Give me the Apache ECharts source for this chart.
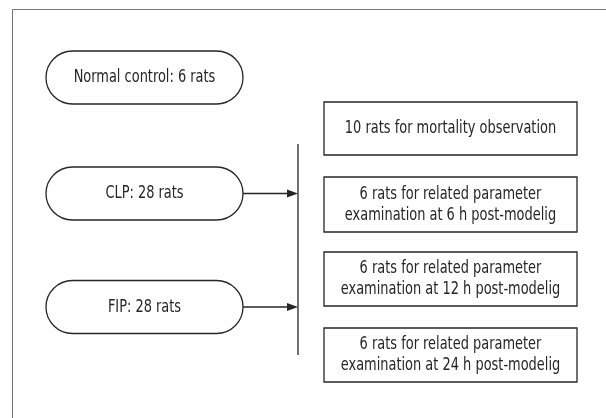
<!DOCTYPE html>
<html>
<head>
<meta charset="utf-8">
<script src="https://cdn.jsdelivr.net/npm/echarts@6/dist/echarts.min.js"></script>
<style>
  html, body { margin: 0; padding: 0; background: #fff; }
  #chart { width: 606px; height: 418px; }
</style>
</head>
<body>
<div id="chart"></div>
<script>
// groups on the left (rounded boxes)
const groupLabels = ["Normal control: 6 rats", "CLP: 28 rats", "FIP: 28 rats"];
// which groups feed into the split bar
const groupArrows = [false, true, true];
// sub-groups on the right
const subLabels = [
  "10 rats for mortality observation",
  "6 rats for related parameter\nexamination at 6 h post-modelig",
  "6 rats for related parameter\nexamination at 12 h post-modelig",
  "6 rats for related parameter\nexamination at 24 h post-modelig"
];

// layout
const pillX = 46, pillW = 197, pillH = 53;
const pillCy = [77.5, 193.5, 307];
const barX = 298, barTop = 144, barBottom = 355;
const boxX = 324, boxW = 253;
const boxTop = [102, 177, 252, 328];
const boxH = [53, 55, 54, 54];

const font = '"DejaVu Sans Condensed", sans-serif';
const fontSize = 18;
const squeeze = 0.8; // reference uses a condensed face
const lineColor = "#262626";
const textColor = "#262626";

const elements = [];

// outer frame (open on the right and bottom)
elements.push({
  type: "polyline",
  shape: { points: [[12.5, 418], [12.5, 9.5], [606, 9.5]] },
  style: { stroke: "#777", lineWidth: 1, fill: null }
});

groupLabels.forEach((label, i) => {
  elements.push({
    type: "rect",
    shape: { x: pillX, y: pillCy[i] - pillH / 2, width: pillW, height: pillH, r: pillH / 2 },
    style: { fill: "#fff", stroke: lineColor, lineWidth: 1.3 }
  });
  elements.push({
    type: "text",
    x: pillX + pillW / 2,
    y: pillCy[i],
    scaleX: squeeze,
    style: {
      text: label, fill: textColor, font: fontSize + "px " + font,
      align: "center", verticalAlign: "middle"
    }
  });
  if (groupArrows[i]) {
    elements.push({
      type: "line",
      shape: { x1: pillX + pillW, y1: pillCy[i], x2: barX - 10, y2: pillCy[i] },
      style: { stroke: lineColor, lineWidth: 1.3 }
    });
    elements.push({
      type: "polygon",
      shape: { points: [[barX - 11, pillCy[i] - 4], [barX, pillCy[i]], [barX - 11, pillCy[i] + 4]] },
      style: { fill: lineColor }
    });
  }
});

elements.push({
  type: "line",
  shape: { x1: barX, y1: barTop, x2: barX, y2: barBottom },
  style: { stroke: lineColor, lineWidth: 1.3 }
});

subLabels.forEach((label, i) => {
  elements.push({
    type: "rect",
    shape: { x: boxX, y: boxTop[i], width: boxW, height: boxH[i] },
    style: { fill: "#fff", stroke: lineColor, lineWidth: 1.3 }
  });
  elements.push({
    type: "text",
    x: boxX + boxW / 2,
    y: boxTop[i] + boxH[i] / 2,
    scaleX: squeeze,
    style: {
      text: label, fill: textColor, font: fontSize + "px " + font,
      lineHeight: 21, align: "center", verticalAlign: "middle"
    }
  });
});

const chart = echarts.init(document.getElementById("chart"));
chart.setOption({
  backgroundColor: "#fff",
  animation: false,
  graphic: { elements: elements }
});
window.addEventListener("resize", chart.resize);
</script>
</body>
</html>
